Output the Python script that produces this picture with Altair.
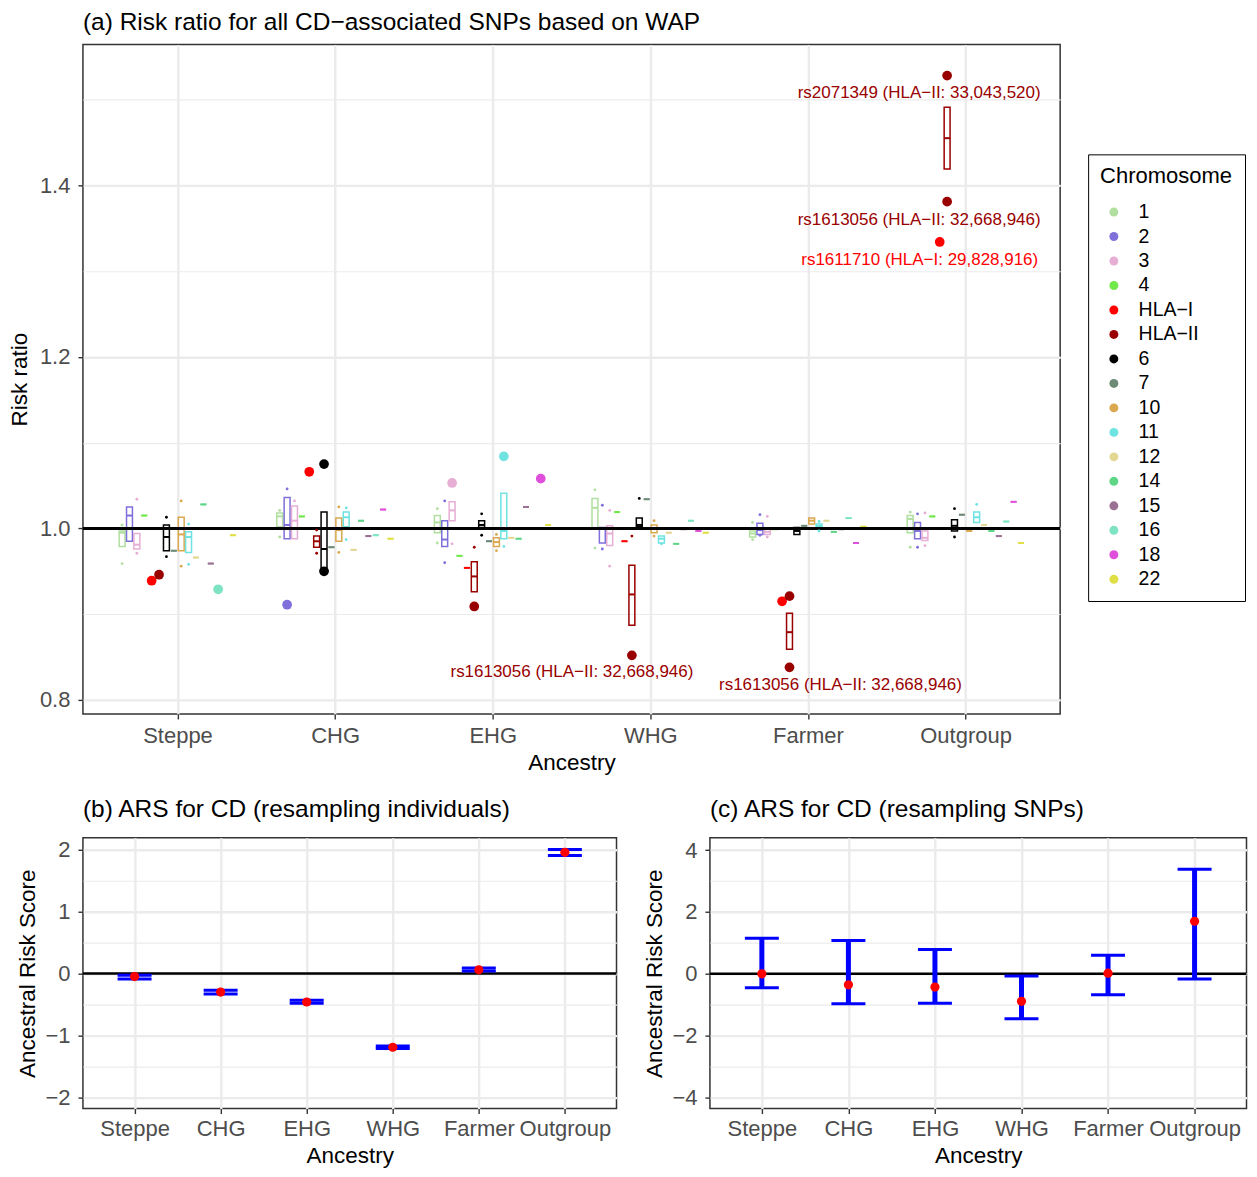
import altair as alt
import pandas as pd

FONT = "Liberation Sans"

ANCESTRY = ["Steppe", "CHG", "EHG", "WHG", "Farmer", "Outgroup"]
CHROMS = ["1", "2", "3", "4", "HLA−I", "HLA−II", "6", "7", "10", "11",
          "12", "14", "15", "16", "18", "22"]
CHROM_COLORS = ["#b0df9f", "#7e6fdb", "#e6aed4", "#71e84b", "#ff0000", "#990000",
                "#000000", "#6c8a76", "#dba84f", "#6fe2e2", "#e2d894", "#5fd687",
                "#9b7193", "#7ee3c3", "#df4fdb", "#e0df46"]

# (chromosome, lower hinge, median, upper hinge) of risk ratios
BOX_STEPPE = [("1", 0.979, 0.995, 0.997), ("2", 0.985, 1.015, 1.025), ("3", 0.976, 0.981, 0.994),
              ("4", 1.015, 1.015, 1.015), ("6", 0.974, 0.990, 1.004), ("7", 0.974, 0.974, 0.974),
              ("10", 0.974, 0.993, 1.013), ("11", 0.972, 0.990, 0.996), ("12", 0.966, 0.966, 0.966),
              ("14", 1.028, 1.028, 1.028), ("15", 0.959, 0.959, 0.959), ("18", 1.000, 1.000, 1.000),
              ("22", 0.992, 0.992, 0.992)]
BOX_CHG = [("1", 1.002, 1.014, 1.018), ("2", 0.988, 1.004, 1.036), ("3", 0.988, 1.009, 1.026),
           ("4", 1.014, 1.014, 1.014), ("HLA−II", 0.978, 0.985, 0.991), ("6", 0.954, 0.976, 1.019),
           ("7", 0.978, 0.978, 0.978), ("10", 0.985, 0.998, 1.012), ("11", 1.002, 1.013, 1.019),
           ("12", 0.975, 0.975, 0.975), ("14", 1.009, 1.009, 1.009), ("15", 0.991, 0.991, 0.991),
           ("16", 0.992, 0.992, 0.992), ("18", 1.022, 1.022, 1.022), ("22", 0.988, 0.988, 0.988)]
BOX_EHG = [("1", 0.995, 1.007, 1.015), ("2", 0.979, 0.987, 1.009), ("3", 1.009, 1.021, 1.031),
           ("4", 0.968, 0.968, 0.968), ("HLA−I", 0.954, 0.954, 0.954), ("HLA−II", 0.926, 0.944, 0.961),
           ("6", 1.001, 1.004, 1.009), ("7", 0.985, 0.985, 0.985), ("10", 0.979, 0.984, 0.989),
           ("11", 0.988, 0.997, 1.041), ("12", 0.989, 0.989, 0.989), ("14", 0.988, 0.988, 0.988),
           ("15", 1.025, 1.025, 1.025), ("16", 1.000, 1.000, 1.000), ("22", 1.004, 1.004, 1.004)]
BOX_WHG = [("1", 1.000, 1.024, 1.035), ("2", 0.983, 1.000, 1.001), ("3", 0.980, 0.994, 1.003),
           ("4", 1.019, 1.019, 1.019), ("HLA−I", 0.985, 0.985, 0.985), ("HLA−II", 0.887, 0.923, 0.957),
           ("6", 1.002, 1.004, 1.012), ("7", 1.034, 1.034, 1.034), ("10", 0.995, 1.000, 1.004),
           ("11", 0.983, 0.988, 0.991), ("12", 0.995, 0.995, 0.995), ("14", 0.982, 0.982, 0.982),
           ("15", 0.999, 0.999, 0.999), ("16", 1.009, 1.009, 1.009), ("18", 0.997, 0.997, 0.997),
           ("22", 0.995, 0.995, 0.995)]
BOX_FARMER = [("1", 0.990, 0.994, 0.997), ("2", 0.993, 0.998, 1.006), ("3", 0.993, 0.996, 0.999),
              ("4", 0.999, 0.999, 0.999), ("HLA−II", 0.859, 0.879, 0.901), ("6", 0.993, 0.997, 1.001),
              ("7", 1.003, 1.003, 1.003), ("10", 1.005, 1.009, 1.012), ("11", 1.002, 1.003, 1.005),
              ("12", 1.009, 1.009, 1.009), ("14", 0.996, 0.996, 0.996), ("15", 0.999, 0.999, 0.999),
              ("16", 1.012, 1.012, 1.012), ("18", 0.983, 0.983, 0.983), ("22", 1.002, 1.002, 1.002)]
BOX_OUTGROUP = [("1", 0.995, 1.011, 1.015), ("2", 0.988, 0.997, 1.007), ("3", 0.986, 0.989, 0.997),
                ("4", 1.014, 1.014, 1.014), ("HLA−II", 1.419, 1.455, 1.491), ("6", 0.997, 1.003, 1.010),
                ("7", 1.016, 1.016, 1.016), ("10", 0.997, 0.997, 0.997), ("11", 1.007, 1.013, 1.019),
                ("12", 1.004, 1.004, 1.004), ("14", 0.997, 0.997, 0.997), ("15", 0.991, 0.991, 0.991),
                ("16", 1.008, 1.008, 1.008), ("18", 1.031, 1.031, 1.031), ("22", 0.983, 0.983, 0.983)]

# individual SNP risk ratios (small points)
PTS_STEPPE = [("1", 1.004), ("1", 0.959), ("3", 1.034), ("3", 0.971), ("6", 1.013), ("6", 0.967),
              ("10", 1.032), ("10", 0.956), ("11", 1.005), ("11", 0.958)]
PTS_CHG = [("1", 1.021), ("1", 0.990), ("2", 1.046), ("3", 1.032), ("HLA−II", 0.998), ("HLA−II", 0.971),
           ("10", 1.025), ("10", 0.972), ("11", 1.024), ("11", 0.987)]
PTS_EHG = [("1", 1.023), ("1", 0.983), ("2", 1.032), ("2", 0.960), ("3", 0.982), ("HLA−II", 0.978),
           ("6", 1.017), ("6", 0.992), ("10", 0.993), ("10", 0.974), ("11", 0.979)]
PTS_WHG = [("1", 1.045), ("1", 0.977), ("2", 1.027), ("2", 0.976), ("3", 1.021), ("3", 0.956),
           ("HLA−II", 0.991), ("6", 1.035), ("10", 1.009), ("10", 0.991), ("11", 0.982)]
PTS_FARMER = [("1", 1.007), ("1", 0.987), ("2", 1.016), ("2", 0.992), ("3", 1.014), ("3", 0.990),
              ("11", 1.008), ("11", 0.997)]
PTS_OUTGROUP = [("1", 1.019), ("1", 0.978), ("2", 1.017), ("2", 0.978), ("3", 1.018), ("3", 0.980),
                ("6", 1.023), ("6", 0.990), ("11", 1.028)]

# outlying SNP risk ratios (large points)
OUT_STEPPE = [("HLA−I", 0.939), ("HLA−II", 0.946), ("16", 0.929)]
OUT_CHG = [("2", 0.911), ("HLA−I", 1.066), ("6", 1.075), ("6", 0.950)]
OUT_EHG = [("3", 1.053), ("HLA−II", 0.909), ("11", 1.084), ("18", 1.058)]
OUT_WHG = [("HLA−II", 0.852)]
OUT_FARMER = [("HLA−I", 0.915), ("HLA−II", 0.921), ("HLA−II", 0.838)]
OUT_OUTGROUP = [("HLA−I", 1.334), ("HLA−II", 1.528), ("HLA−II", 1.381)]

# labelled SNPs: ancestry, chromosome, risk ratio, label
LABELS = [("Outgroup", "HLA−II", 1.528, "rs2071349 (HLA−II: 33,043,520)"),
          ("Outgroup", "HLA−II", 1.381, "rs1613056 (HLA−II: 32,668,946)"),
          ("Outgroup", "HLA−I", 1.334, "rs1611710 (HLA−I: 29,828,916)"),
          ("WHG", "HLA−II", 0.852, "rs1613056 (HLA−II: 32,668,946)"),
          ("Farmer", "HLA−II", 0.838, "rs1613056 (HLA−II: 32,668,946)")]
LABEL_SHIFT = [(-28, 17), (-28, 18), (-20, 18), (-60, 17), (51, 18)]

REF_RR = 1.0
REF_ARS = 0.0

# ARS resampling individuals: estimate, low, high
ARS_IND = [-0.05, -0.30, -0.46, -1.19, 0.06, 1.955]
ARS_IND_LO = [-0.09, -0.33, -0.48, -1.21, 0.04, 1.905]
ARS_IND_HI = [-0.03, -0.27, -0.43, -1.17, 0.09, 2.00]
# ARS resampling SNPs
ARS_SNP = [0.0, -0.355, -0.43, -0.89, 0.02, 1.70]
ARS_SNP_LO = [-0.45, -0.97, -0.955, -1.45, -0.68, -0.17]
ARS_SNP_HI = [1.15, 1.08, 0.79, -0.074, 0.60, 3.38]

# ---------------- data frames ----------------
DODGE = 0.75          # share of a category slot used by the 16 dodged chromosomes
SLOT = DODGE / len(CHROMS)
BOX_FRAC = 0.8


def dodge(anc, chrom):
    return ANCESTRY.index(anc) + 1 + (CHROMS.index(chrom) - (len(CHROMS) - 1) / 2) * SLOT


def frame(groups, cols):
    rows = []
    for anc, lst in groups:
        for item in lst:
            r = dict(zip(["anc"] + cols, (anc,) + tuple(item)))
            r["xc"] = dodge(anc, r["chrom"])
            r["x0"] = r["xc"] - SLOT * BOX_FRAC / 2
            r["x1"] = r["xc"] + SLOT * BOX_FRAC / 2
            rows.append(r)
    return pd.DataFrame(rows)


boxes = frame(list(zip(ANCESTRY, [BOX_STEPPE, BOX_CHG, BOX_EHG, BOX_WHG, BOX_FARMER, BOX_OUTGROUP])),
              ["chrom", "lo", "mid", "hi"])
pts = frame(list(zip(ANCESTRY, [PTS_STEPPE, PTS_CHG, PTS_EHG, PTS_WHG, PTS_FARMER, PTS_OUTGROUP])),
            ["chrom", "rr"])
outs = frame(list(zip(ANCESTRY, [OUT_STEPPE, OUT_CHG, OUT_EHG, OUT_WHG, OUT_FARMER, OUT_OUTGROUP])),
             ["chrom", "rr"])

GRID = "#ebebeb"
LABEL_COL = "#4d4d4d"

SC_XA = alt.Scale(domain=[0.4, len(ANCESTRY) + 0.6], nice=False, zero=False)
SC_YA = alt.Scale(domain=[0.7837, 1.5643], nice=False, zero=False)
SC_COL = alt.Scale(domain=CHROMS, range=CHROM_COLORS)
# same mapping listed in reverse order, so these guide-less scales stay apart from the legend
SC_COL_REV = alt.Scale(domain=CHROMS[::-1], range=CHROM_COLORS[::-1])

anc_list = "[" + ",".join("'" + a + "'" for a in ANCESTRY) + "]"
X_AXIS_A = alt.Axis(title="Ancestry", values=list(range(1, len(ANCESTRY) + 1)),
                    labelExpr=anc_list + "[datum.value - 1]", grid=True, gridColor=GRID,
                    gridWidth=2.4, titlePadding=5, labelPadding=7)

LEGEND = alt.Legend(title="Chromosome", orient="none", legendX=1006, legendY=110,
                    titleFontSize=22, titleFont=FONT, titleFontWeight="normal", titleColor="black",
                    labelFontSize=19.5, labelFont=FONT, labelColor="black", symbolType="circle",
                    symbolSize=80, symbolStrokeWidth=0, rowPadding=3.5, padding=12,
                    strokeColor="black", labelOffset=15, titlePadding=14, symbolOffset=4)


def xq(field):
    return alt.X(field, type="quantitative", scale=SC_XA, axis=X_AXIS_A)


def stroke_col():
    return alt.Stroke("chrom:N", scale=SC_COL_REV, legend=None)


def minor_axis(vals):
    return alt.Axis(orient="left", values=vals, grid=True, gridColor=GRID, gridWidth=1.2,
                    labels=False, ticks=False, domain=False, title=None)


def main_y_axis(title, vals, fmt, pad):
    return alt.Axis(orient="left", values=vals, format=fmt, grid=True, gridColor=GRID,
                    gridWidth=2.4, title=title, titlePadding=pad, labelPadding=8)


def title_params(text, offset, dy):
    return alt.TitleParams(text=text, anchor="start", frame="group", fontSize=24.5, font=FONT,
                           fontWeight="normal", color="black", offset=offset, dy=dy)


box_layer = alt.Chart(boxes).mark_bar(filled=False, strokeWidth=1.5).encode(
    x=xq("x0"), x2="x1",
    y=alt.Y("lo:Q", scale=SC_YA, axis=minor_axis([0.8, 0.9, 1.0, 1.1, 1.2, 1.3, 1.4, 1.5])),
    y2="hi:Q", stroke=stroke_col())

med_layer = alt.Chart(boxes).mark_rule(strokeWidth=2).encode(
    x=xq("x0"), x2="x1",
    y=alt.Y("mid:Q", scale=SC_YA, axis=main_y_axis("Risk ratio", [0.8, 1.0, 1.2, 1.4], ".1f", 7.5)),
    stroke=stroke_col())

ref_layer = alt.Chart(pd.DataFrame({"v": [REF_RR]})).mark_rule(color="black", strokeWidth=3).encode(
    y=alt.Y("v:Q", scale=SC_YA, axis=None))

pt_layer = alt.Chart(pts).mark_circle(size=8, opacity=1).encode(
    x=xq("xc"), y=alt.Y("rr:Q", scale=SC_YA, axis=None),
    color=alt.Color("chrom:N", scale=SC_COL, sort=CHROMS, legend=LEGEND))

out_layer = alt.Chart(outs).mark_circle(size=95, opacity=1).encode(
    x=xq("xc"), y=alt.Y("rr:Q", scale=SC_YA, axis=None),
    color=alt.Color("chrom:N", scale=SC_COL, sort=CHROMS, legend=LEGEND))

text_layers = []
for (anc, chrom, rr, lab), (dx, dy) in zip(LABELS, LABEL_SHIFT):
    d = pd.DataFrame({"chrom": [chrom], "rr": [rr], "label": [lab], "xc": [dodge(anc, chrom)]})
    text_layers.append(
        alt.Chart(d).mark_text(font=FONT, fontSize=17, dx=dx, dy=dy, align="center",
                               baseline="middle").encode(
            x=xq("xc"), y=alt.Y("rr:Q", scale=SC_YA, axis=None),
            text="label:N", fill=alt.Fill("chrom:N", scale=SC_COL_REV, legend=None)))

panel_a = alt.layer(box_layer, med_layer, ref_layer, pt_layer, out_layer, *text_layers).resolve_axis(
    y="independent").properties(
    width=978, height=670,
    title=title_params("(a) Risk ratio for all CD−associated SNPs based on WAP", 4, -5))


def ars_panel(est, lo, hi, domain, major, minor, title, pad, width):
    df = pd.DataFrame({"anc": ANCESTRY, "est": est, "lo": lo, "hi": hi})
    sx = alt.Scale(type="point", domain=ANCESTRY, padding=0.6)
    sy = alt.Scale(domain=domain, nice=False, zero=False)
    xaxis = alt.Axis(title="Ancestry", labelAngle=0, grid=True, gridColor=GRID, gridWidth=2.4,
                     titlePadding=5, labelPadding=5)

    def xb():
        return alt.X("anc:N", sort=ANCESTRY, scale=sx, axis=xaxis)

    ref = alt.Chart(pd.DataFrame({"v": [REF_ARS]})).mark_rule(color="black", strokeWidth=2.5).encode(
        y=alt.Y("v:Q", scale=sy, axis=minor_axis(minor)))
    bar = alt.Chart(df).mark_rule(color="#0000ff", strokeWidth=5, opacity=1).encode(
        x=xb(),
        y=alt.Y("lo:Q", scale=sy, axis=main_y_axis("Ancestral Risk Score", major, "d", pad)),
        y2="hi:Q")
    cap_lo = alt.Chart(df).mark_tick(color="#0000ff", size=34, thickness=3, opacity=1).encode(
        x=xb(), y=alt.Y("lo:Q", scale=sy, axis=None))
    cap_hi = alt.Chart(df).mark_tick(color="#0000ff", size=34, thickness=3, opacity=1).encode(
        x=xb(), y=alt.Y("hi:Q", scale=sy, axis=None))
    dot = alt.Chart(df).mark_circle(color="#ff0000", size=85, opacity=1).encode(
        x=xb(), y=alt.Y("est:Q", scale=sy, axis=None))
    return alt.layer(ref, bar, cap_lo, cap_hi, dot).resolve_axis(y="independent").properties(
        width=width, height=271, title=title_params(title, 7, -8))


panel_b = ars_panel(ARS_IND, ARS_IND_LO, ARS_IND_HI, [-2.18, 2.19], [-2, -1, 0, 1, 2],
                    [-2, -1.5, -1, -0.5, 0, 0.5, 1, 1.5, 2],
                    "(b) ARS for CD (resampling individuals)", 5, 534)
panel_c = ars_panel(ARS_SNP, ARS_SNP_LO, ARS_SNP_HI, [-4.36, 4.40], [-4, -2, 0, 2, 4],
                    [-4, -3, -2, -1, 0, 1, 2, 3, 4],
                    "(c) ARS for CD (resampling SNPs)", 5, 537)

chart = alt.concat(panel_a, alt.hconcat(panel_b, panel_c, spacing=24.5), columns=1,
                   spacing=20).properties(
    padding={"left": 0, "top": 0, "right": 0, "bottom": 0}
).configure_view(stroke="#333333", strokeWidth=1.5).configure_axis(
    labelFont=FONT, titleFont=FONT, labelFontSize=22, titleFontSize=22.5, labelColor=LABEL_COL,
    titleColor="black", titleFontWeight="normal", tickColor="#333333", tickSize=5, tickWidth=1.4,
    domain=False, labelPadding=3)

chart.save("out.html", embed_options={"renderer": "svg", "actions": False})
